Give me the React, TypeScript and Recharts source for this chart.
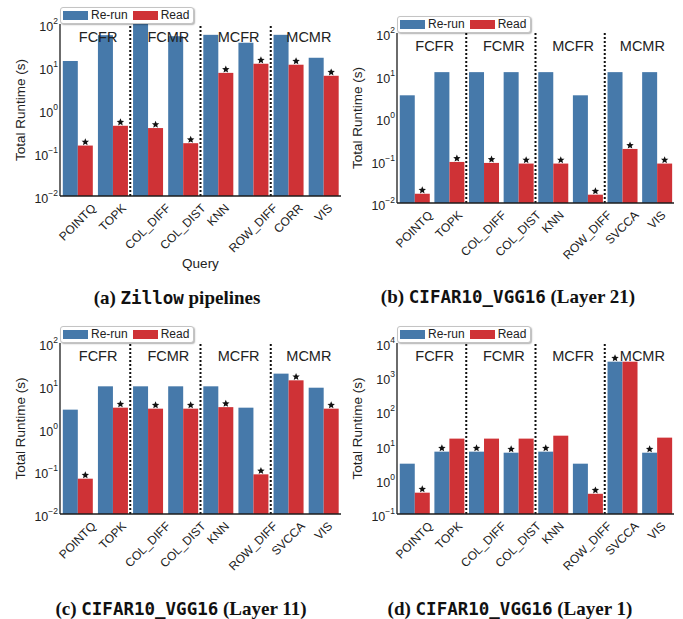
import React from 'react';
import { BarChart, Bar, XAxis, YAxis, Legend, ReferenceLine } from 'recharts';

type Pick = 'rerun' | 'read';

// query names on the x axis
const zillowQueries = ['POINTQ', 'TOPK', 'COL_DIFF', 'COL_DIST', 'KNN', 'ROW_DIFF', 'CORR', 'VIS'];
const cifarQueries = ['POINTQ', 'TOPK', 'COL_DIFF', 'COL_DIST', 'KNN', 'ROW_DIFF', 'SVCCA', 'VIS'];
const queryGroups = ['FCFR', 'FCMR', 'MCFR', 'MCMR'];

// (a) Zillow pipelines, seconds
const zillowRerun = [13.8, 55, 130, 52, 56, 36.7, 56, 16.4];
const zillowRead = [0.149, 0.43, 0.38, 0.169, 7.3, 11.9, 11.3, 6.25];
const zillowPick: Pick[] = ['read', 'read', 'read', 'read', 'read', 'read', 'read', 'read'];

// (b) CIFAR10_VGG16 layer 21
const layer21Rerun = [3.42, 12, 12, 12, 12, 3.42, 12, 12];
const layer21Read = [0.0165, 0.0925, 0.0877, 0.0847, 0.0847, 0.0157, 0.187, 0.0847];
const layer21Pick: Pick[] = ['read', 'read', 'read', 'read', 'read', 'read', 'read', 'read'];

// (c) CIFAR10_VGG16 layer 11
const layer11Rerun = [2.76, 9.7, 9.7, 9.7, 9.7, 3.07, 19.2, 9.0];
const layer11Read = [0.067, 3.07, 2.91, 2.91, 3.16, 0.0847, 13.4, 2.91];
const layer11Pick: Pick[] = ['read', 'read', 'read', 'read', 'read', 'read', 'read', 'read'];

// (d) CIFAR10_VGG16 layer 1
const layer1Rerun = [2.96, 6.65, 6.65, 6.2, 6.65, 2.96, 2845, 6.2];
const layer1Read = [0.42, 16, 16, 16, 19.5, 0.39, 2845, 17.1];
const layer1Pick: Pick[] = ['read', 'rerun', 'rerun', 'rerun', 'rerun', 'read', 'rerun', 'rerun'];

const ticksSmall = [0.01, 0.1, 1, 10, 100];
const ticksLarge = [0.1, 1, 10, 100, 1000, 10000];

const BLUE = '#4679aa';
const RED = '#cf3236';
const INK = '#1c1c1c';
const FONT = '"Liberation Sans", Arial, Helvetica, sans-serif';

const measureCtx = typeof document !== 'undefined' ? document.createElement('canvas').getContext('2d') : null;
const textWidth = (s: string, font: string) => {
  if (!measureCtx) return s.length * 7;
  measureCtx.font = font;
  return measureCtx.measureText(s).width;
};

const starPath = (cx: number, cy: number, r: number) => {
  const pts: string[] = [];
  for (let k = 0; k < 10; k++) {
    const rad = k % 2 === 0 ? r : r * 0.45;
    const a = -Math.PI / 2 + (k * Math.PI) / 5;
    pts.push(`${(cx + rad * Math.cos(a)).toFixed(2)},${(cy + rad * Math.sin(a)).toFixed(2)}`);
  }
  return `M${pts.join('L')}Z`;
};

// bar rect plus a star over the option the optimizer picked
const makeShape = (which: Pick) => (props: any) => {
  const { x, y, width, height, fill, payload } = props;
  return (
    <g>
      <rect x={x} y={y} width={width} height={height} fill={fill} />
      {payload && payload.pick === which && <path d={starPath(x + width / 2, y - 3.5, 3.9)} fill="#111" />}
    </g>
  );
};

// rotated query names, centred under each band
const QueryTick = (props: any) => {
  const { x, y, payload } = props;
  const fs = 12;
  const w = textWidth(payload.value, `${fs}px "Liberation Sans"`);
  const half = 0.3536 * (w + fs * 0.95);
  const cy = y + 6 + half;
  return (
    <text x={x} y={cy} transform={`rotate(-45 ${x} ${cy})`} textAnchor="middle" dominantBaseline="central"
      fontSize={fs} fontFamily={FONT} fill="#222">
      {payload.value}
    </text>
  );
};

// 10^n tick labels
const PowerTick = (props: any) => {
  const { x, y, payload } = props;
  const exp = Math.round(Math.log10(payload.value));
  const sup = exp < 0 ? `\u2212${-exp}` : `${exp}`;
  return (
    <text x={x - 2} y={y + 7} textAnchor="end" fontSize={12.5} fontFamily={FONT} fill="#222">
      10<tspan dy={-7} fontSize={8.5}>{sup}</tspan>
    </text>
  );
};

const renderRuntimeLabel = (props: any) => {
  const vb = props.viewBox || {};
  const cx = (vb.x ?? 0) + (vb.width ?? 60) - 40;
  const cy = (vb.y ?? 0) + (vb.height ?? 170) / 2;
  return (
    <text x={cx} y={cy} transform={`rotate(-90 ${cx} ${cy})`} textAnchor="middle" dominantBaseline="central"
      fontSize={13.5} fontFamily={FONT} fill="#222">
      Total Runtime (s)
    </text>
  );
};

const renderLegend = (props: any) => (
  <div style={{
    display: 'flex', alignItems: 'center', background: '#fff', border: '1px solid #c4c4c4', borderRadius: 3,
    boxShadow: '1px 1px 1.5px rgba(0,0,0,0.3)', height: 15, padding: '0 2px 0 2px', fontFamily: FONT,
    fontSize: 12, color: '#222', lineHeight: '15px', whiteSpace: 'nowrap',
  }}>
    {(props.payload || []).map((e: any, i: number) => (
      <span key={e.value} style={{ display: 'flex', alignItems: 'center', marginRight: i === 0 ? 5 : 2 }}>
        <span style={{ display: 'inline-block', width: 25, height: 9, background: e.color, marginRight: 3 }} />
        {e.value}
      </span>
    ))}
  </div>
);

interface PanelProps {
  queries: string[];
  rerun: number[];
  read: number[];
  pick: Pick[];
  ticks: number[];
  left: number;
  top: number;
  width: number;
  marginTop: number;
  marginRight: number;
  yWidth: number;
  axisHeight: number;
  showQuery?: boolean;
}

const CHART_H = 280;

const RuntimePanel: React.FC<PanelProps> = ({
  queries, rerun, read, pick, ticks, left, top, width, marginTop, marginRight, yWidth, axisHeight, showQuery,
}) => {
  const rows = queries.map((q, i) => ({ query: q, rerun: rerun[i], read: read[i], pick: pick[i] }));
  const domain = [ticks[0], ticks[ticks.length - 1]];
  const frame = { stroke: INK, strokeWidth: 1.3 };
  // every group covers two queries
  const perGroup = queries.length / queryGroups.length;
  return (
    <div style={{ position: 'absolute', left, top }}>
      <BarChart width={width} height={CHART_H} data={rows}
        margin={{ top: marginTop, right: marginRight, bottom: 0, left: 0 }} barCategoryGap="8%" barGap={0}>
        <Bar xAxisId="cat" dataKey="rerun" name="Re-run" fill={BLUE} shape={makeShape('rerun')} isAnimationActive={false} />
        <Bar xAxisId="cat" dataKey="read" name="Read" fill={RED} shape={makeShape('read')} isAnimationActive={false} />
        {queryGroups.slice(1).map((g, i) => (
          <ReferenceLine key={g} xAxisId="cat" x={queries[(i + 1) * perGroup]} position="start"
            stroke="#111" strokeWidth={2} strokeDasharray="2 2" />
        ))}
        {queryGroups.map((g, i) => (
          <ReferenceLine key={`lbl-${g}`} xAxisId="cat" x={queries[i * perGroup]} position="end" stroke="none"
            label={{ value: g, position: 'insideTop', offset: 8, dx: 3, fontSize: 14.5, fill: '#222', fontFamily: FONT }} />
        ))}
        <XAxis xAxisId="cat" dataKey="query" type="category" height={axisHeight} interval={0}
          tickLine={false} tickSize={0} tickMargin={0} tick={<QueryTick />} axisLine={frame}
          label={showQuery ? { value: 'Query', position: 'insideBottom', offset: 12, fontSize: 13.5, fill: '#222', fontFamily: FONT } : undefined} />
        <XAxis xAxisId="top" dataKey="query" type="category" orientation="top" height={0}
          tick={false} tickLine={false} axisLine={frame} />
        <YAxis scale="log" domain={domain} ticks={ticks} allowDataOverflow width={yWidth} interval={0}
          tickLine={false} tickSize={0} tickMargin={0} tick={<PowerTick />} axisLine={frame} label={renderRuntimeLabel} />
        <YAxis yAxisId="edge" orientation="right" scale="log" domain={domain} allowDataOverflow width={0}
          tick={false} tickLine={false} axisLine={frame} />
        <Legend layout="vertical" align="center" verticalAlign="middle" content={renderLegend}
          wrapperStyle={{ left: yWidth, top: marginTop - 17, width: 'auto', height: 'auto' }} />
      </BarChart>
    </div>
  );
};

const captionStyle: React.CSSProperties = {
  position: 'absolute', width: 320, textAlign: 'center', fontFamily: '"Liberation Serif", "Times New Roman", serif',
  fontWeight: 700, fontSize: 19, color: '#111', whiteSpace: 'nowrap', lineHeight: '20px',
};
const monoStyle: React.CSSProperties = { fontFamily: '"DejaVu Sans Mono", "Liberation Mono", monospace', fontSize: 17.5 };

const App: React.FC = () => (
  <div style={{ position: 'absolute', left: 0, top: 0, width: 683, height: 619, background: '#fff', overflow: 'hidden' }}>
    <RuntimePanel queries={zillowQueries} rerun={zillowRerun} read={zillowRead} pick={zillowPick} ticks={ticksSmall}
      left={0} top={0} width={345} marginTop={24} marginRight={4} yWidth={60} axisHeight={84} showQuery />
    <RuntimePanel queries={cifarQueries} rerun={layer21Rerun} read={layer21Read} pick={layer21Pick} ticks={ticksSmall}
      left={340} top={0} width={340} marginTop={33} marginRight={6} yWidth={57} axisHeight={77} />
    <RuntimePanel queries={cifarQueries} rerun={layer11Rerun} read={layer11Read} pick={layer11Pick} ticks={ticksSmall}
      left={0} top={315} width={345} marginTop={28} marginRight={4} yWidth={60} axisHeight={81} />
    <RuntimePanel queries={cifarQueries} rerun={layer1Rerun} read={layer1Read} pick={layer1Pick} ticks={ticksLarge}
      left={340} top={315} width={340} marginTop={28} marginRight={6} yWidth={57} axisHeight={81} />

    <div style={{ ...captionStyle, left: 177 - 160, top: 288 }}>(a) <span style={monoStyle}>Zillow</span> pipelines</div>
    <div style={{ ...captionStyle, left: 508 - 160, top: 287 }}>(b) <span style={monoStyle}>CIFAR10_VGG16</span> (Layer 21)</div>
    <div style={{ ...captionStyle, left: 181 - 160, top: 599 }}>(c) <span style={monoStyle}>CIFAR10_VGG16</span> (Layer 11)</div>
    <div style={{ ...captionStyle, left: 510 - 160, top: 599 }}>(d) <span style={monoStyle}>CIFAR10_VGG16</span> (Layer 1)</div>
  </div>
);

export default App;
